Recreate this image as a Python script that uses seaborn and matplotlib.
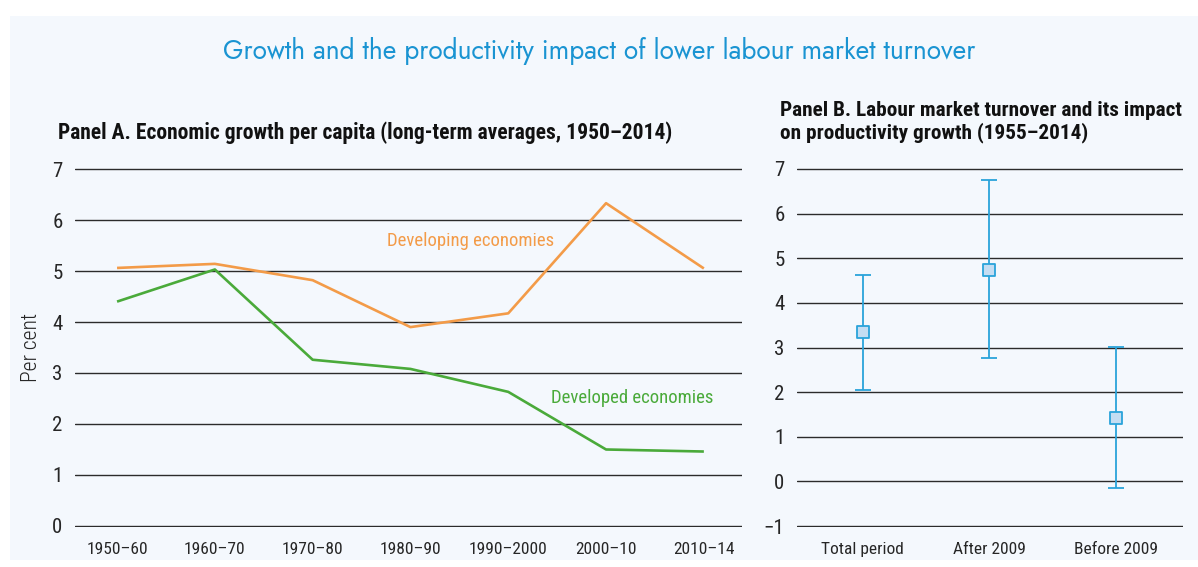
import matplotlib
matplotlib.use("Agg")
import matplotlib.pyplot as plt
from matplotlib import font_manager
from matplotlib.patches import Rectangle
import seaborn as sns
import pandas as pd
import numpy as np

# ---- data ----
periods = ["1950–60", "1960–70", "1970–80", "1980–90", "1990–2000", "2000–10", "2010–14"]
developing = [5.06, 5.14, 4.82, 3.90, 4.17, 6.33, 5.05]
developed = [4.40, 5.03, 3.26, 3.08, 2.63, 1.50, 1.46]

b_categories = ["Total period", "After 2009", "Before 2009"]
b_estimate = [3.34, 4.74, 1.43]
b_lower = [2.05, 2.76, -0.15]
b_upper = [4.63, 6.75, 3.01]

# ---- style ----
sns.set_theme(style="white")
names = {f.name for f in font_manager.fontManager.ttflist}


def pick(cands, default="DejaVu Sans"):
    for c in cands:
        if c in names:
            return c
    return default


BODY = pick(["Roboto Condensed", "Archivo Narrow", "PT Sans Narrow", "IBM Plex Sans Condensed",
             "Liberation Sans Narrow", "Open Sans Condensed"])
TITLEF = pick(["Futura", "Jost", "Questrial", "Century Gothic", "Didact Gothic", "Lato"])
plt.rcParams["font.family"] = [BODY, "DejaVu Sans"]

BG = "#F4F8FD"
ORANGE = "#F39B48"
GREEN = "#4AAA3A"
BLUE = "#2AA3DA"
TITLE_BLUE = "#1A94D2"
GRID = "#2b2b2b"

fig = plt.figure(figsize=(11.98, 5.67), dpi=100)
fig.patch.set_facecolor("white")
fig.add_artist(Rectangle((10 / 1198, 1 - 560 / 567), 1 - 10 / 1198, (560 - 16) / 567,
                         transform=fig.transFigure, facecolor=BG, edgecolor="none", zorder=0))

axA = fig.add_axes([75 / 1198, 1 - 527 / 567, (742 - 75) / 1198, (527 - 168) / 567])
axB = fig.add_axes([797 / 1198, 1 - 527 / 567, (1183 - 797) / 1198, (527 - 168) / 567])

for ax in (axA, axB):
    ax.set_facecolor("none")
    for s in ax.spines.values():
        s.set_visible(False)
    ax.tick_params(axis="both", length=0)

# ---- Panel A ----
dfA = pd.DataFrame({
    "period": periods * 2,
    "value": developing + developed,
    "group": ["Developing economies"] * len(periods) + ["Developed economies"] * len(periods),
})
dfA["x"] = list(range(len(periods))) * 2
sns.lineplot(data=dfA, x="x", y="value", hue="group",
             palette={"Developing economies": ORANGE, "Developed economies": GREEN},
             linewidth=1.9, legend=False, ax=axA, zorder=3)
for l in axA.lines:
    l.set_solid_joinstyle("round")
    l.set_solid_capstyle("butt")
axA.set_xlim(-0.43, 6.39)
axA.set_ylim(-0.02, 7.02)
axA.set_yticks(range(0, 8))
axA.set_xticks(range(len(periods)))
axA.set_xticklabels(periods, fontsize=12.5)
axA.tick_params(axis="x", pad=11)
axA.tick_params(axis="y", labelsize=15, pad=9)
axA.yaxis.grid(True, color=GRID, linewidth=1.0)
axA.set_axisbelow(True)
axA.set_xlabel("")
axA.set_ylabel("Per cent", fontsize=15.5, labelpad=7, fontweight="light")
axA.text(3.61, 5.58, "Developing economies", color=ORANGE, fontsize=13.5, ha="center", va="center")
axA.text(5.27, 2.50, "Developed economies", color=GREEN, fontsize=13.5, ha="center", va="center")

# ---- Panel B ----
dfB = pd.DataFrame({"cat": b_categories, "est": b_estimate, "lo": b_lower, "hi": b_upper})
xb = np.arange(len(b_categories))
axB.errorbar(xb, dfB["est"], yerr=[dfB["est"] - dfB["lo"], dfB["hi"] - dfB["est"]],
             fmt="none", ecolor=BLUE, elinewidth=1.3, capsize=6, capthick=1.3, zorder=3)
sns.scatterplot(x=xb, y=dfB["est"], marker="s", s=70, color="#C4DDF2",
                edgecolor=BLUE, linewidth=1.3, ax=axB, zorder=4, legend=False)
axB.set_xlim(-0.52, 2.53)
axB.set_ylim(-1.02, 7.02)
axB.set_yticks(range(-1, 8))
axB.set_yticklabels(["−1"] + [str(i) for i in range(0, 8)])
axB.set_xticks(xb)
axB.set_xticklabels(b_categories, fontsize=12.5)
axB.tick_params(axis="x", pad=11)
axB.tick_params(axis="y", labelsize=15, pad=9)
axB.yaxis.grid(True, color=GRID, linewidth=1.0)
axB.set_axisbelow(True)
axB.set_xlabel("")
axB.set_ylabel("")

# ---- titles ----
fig.text(0.5, 1 - 51 / 567, "Growth and the productivity impact of lower labour market turnover",
         color=TITLE_BLUE, fontsize=19, ha="center", va="center", family=[TITLEF, "DejaVu Sans"])
fig.text(58 / 1198, 1 - 133 / 567, "Panel A. Economic growth per capita (long-term averages, 1950–2014)",
         fontsize=15.5, fontweight="bold", ha="left", va="center", color="#111111")
fig.text(780 / 1198, 1 - 122 / 567, "Panel B. Labour market turnover and its impact\non productivity growth (1955–2014)",
         fontsize=15.3, fontweight="bold", ha="left", va="center", color="#111111", linespacing=1.2)

fig.savefig("out.png", dpi=100, facecolor="white")
